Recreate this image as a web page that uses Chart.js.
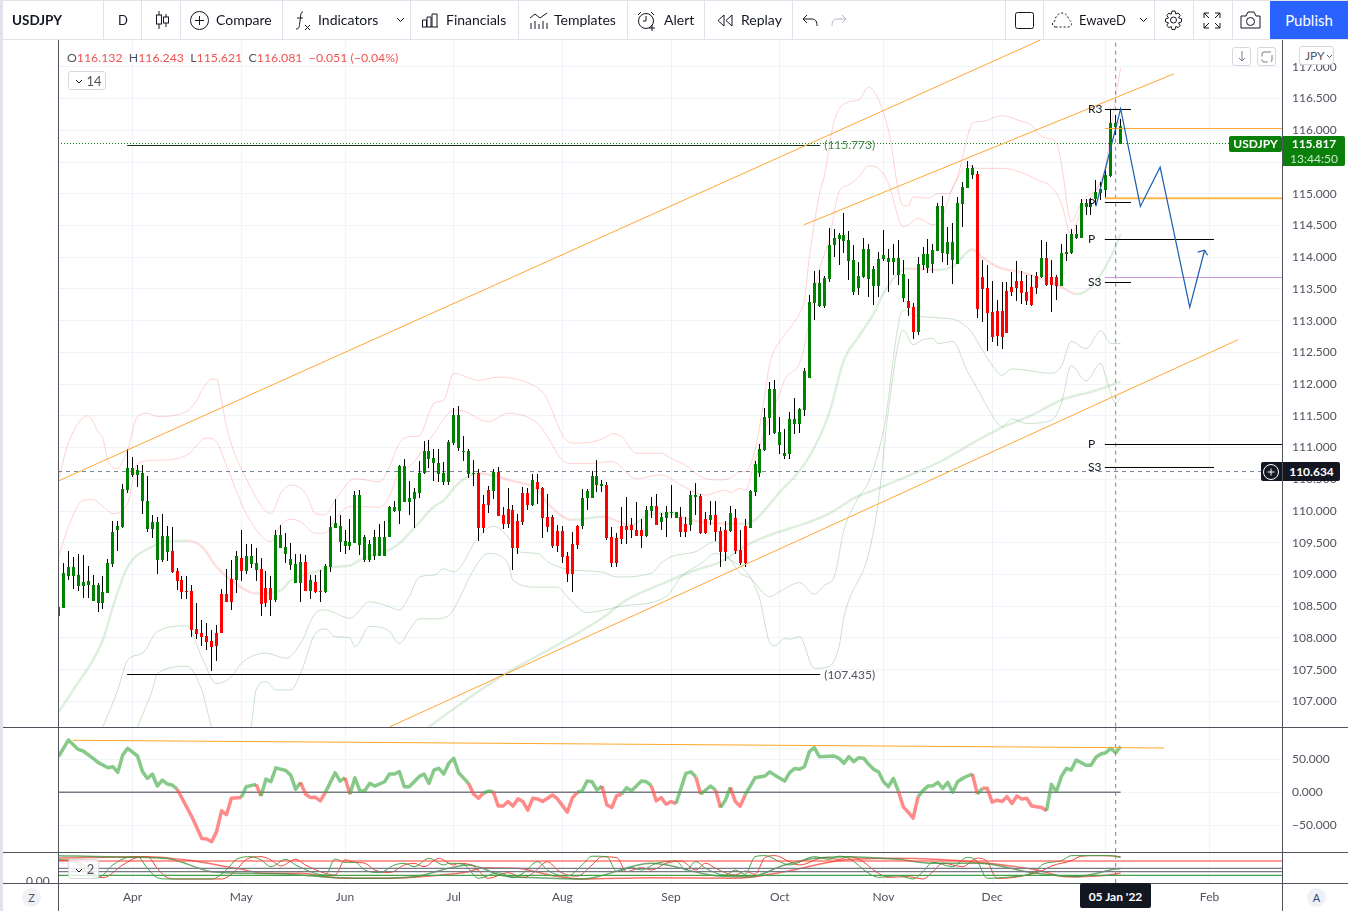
<!DOCTYPE html>
<html><head><meta charset="utf-8"><title>USDJPY</title>
<script src="https://cdn.jsdelivr.net/npm/chart.js@4/dist/chart.umd.min.js"></script>
<style>
html,body{margin:0;padding:0;background:#fff;width:1348px;height:911px;overflow:hidden;font-family:Lato,"Open Sans",sans-serif;color:#131722}
#c{position:absolute;left:0;top:0}
.a{position:absolute;white-space:nowrap}
.ln{position:absolute;background:#50535e}
.sep{position:absolute;top:0;width:1px;height:39px;background:#e0e3eb}
.tb{position:absolute;top:11px;font-size:14px;line-height:18px;color:#131722;white-space:nowrap}
svg{position:absolute;overflow:visible;fill:none;stroke:#131722;stroke-width:1}
.btn{position:absolute;background:#fff;border:1px solid #d6d8df;border-radius:3px;box-sizing:border-box;font-size:13px;color:#50535e;text-align:center}
.tag{position:absolute;color:#fff;font-size:12px;font-weight:700;text-align:center;border-radius:2px}
</style></head><body>
<canvas id="c" width="1348" height="911"></canvas>

<div class="a" style="left:0;top:0;width:3px;height:911px;background:#e0e3eb"></div>
<div class="a" style="left:0;top:0;width:1348px;height:1px;background:#e0e3eb"></div>
<div class="a" style="left:0;top:39px;width:1348px;height:1px;background:#e0e3eb"></div>
<div class="ln" style="left:58px;top:40px;width:1px;height:871px"></div>
<div class="ln" style="left:1282px;top:40px;width:1px;height:871px"></div>
<div class="ln" style="left:3px;top:727px;width:1345px;height:1px"></div>
<div class="ln" style="left:3px;top:852px;width:1345px;height:1px"></div>
<div class="ln" style="left:3px;top:883px;width:1345px;height:1px"></div>
<div class="a" style="left:26px;top:873px;height:10px;overflow:hidden;font-size:12px;line-height:15px;color:#50535e">0.00</div>

<div class="tb" style="left:12px;font-weight:700;font-size:13.500px">USDJPY</div>
<div class="sep" style="left:103px"></div>
<div class="tb" style="left:118px;font-size:13px">D</div>
<div class="sep" style="left:141px"></div>
<svg style="left:155px;top:11px" width="14" height="18"><path d="M4 0v18M11 3v13"/><rect x="1.5" y="4" width="5" height="9" fill="#fff"/><rect x="8.5" y="6" width="5" height="6" fill="#fff"/></svg>
<div class="sep" style="left:180px"></div>
<svg style="left:190px;top:11px" width="19" height="19"><circle cx="9.5" cy="9.5" r="9"/><path d="M9.5 5v9M5 9.5h9"/></svg>
<div class="tb" style="left:216px">Compare</div>
<div class="sep" style="left:282px"></div>
<svg style="left:295px;top:11px" width="16" height="20"><path d="M8 1c-3 0-2 4-3 9s0 8-4 8M2 7h6M10 14l5 5M15 14l-5 5"/></svg>
<div class="tb" style="left:318px">Indicators</div>
<svg style="left:396px;top:17px" width="9" height="6"><path d="M1 1l3.5 3.5L8 1"/></svg>
<div class="sep" style="left:410px"></div>
<svg style="left:421px;top:13px" width="17" height="15"><path d="M1 14h16M1.5 14V7h4v7M6 14V4h4v10M11 14V1h5v13"/></svg>
<div class="tb" style="left:446px">Financials</div>
<div class="sep" style="left:518px"></div>
<svg style="left:529px;top:12px" width="19" height="17"><path d="M1 6l5-4 5 4 7-5M2 17v-6M6 17v-8M10 17v-5M14 17v-8M18 17v-6"/></svg>
<div class="tb" style="left:554px">Templates</div>
<div class="sep" style="left:627px"></div>
<svg style="left:637px;top:11px" width="20" height="20"><circle cx="9" cy="10" r="7.5"/><path d="M9 5v5h-3M1 4l3-3M14 1l3 3M15 14v6M12 17h6"/></svg>
<div class="tb" style="left:664px">Alert</div>
<div class="sep" style="left:704px"></div>
<svg style="left:717px;top:14px" width="17" height="13"><path d="M7 1L1 6.500l6 5.500zM15 1L9 6.500l6 5.500z"/></svg>
<div class="tb" style="left:741px">Replay</div>
<div class="sep" style="left:792px"></div>
<svg style="left:802px;top:14px" width="16" height="12"><path d="M5 1L1 5l4 4M1 5h9c4 0 5 3 5 7"/></svg>
<svg style="left:831px;top:14px;stroke:#b2b5be" width="16" height="12"><path d="M11 1l4 4-4 4M15 5H6C2 5 1 8 1 12"/></svg>
<div class="sep" style="left:1005px"></div>
<svg style="left:1015px;top:12px" width="19" height="17"><rect x=".5" y=".5" width="18" height="16" rx="2"/></svg>
<div class="sep" style="left:1043px"></div>
<svg style="left:1051px;top:12px;stroke-dasharray:2 2" width="22" height="16"><path d="M5 15C1 15 0 10 4 9 4 5 7 1 11 1s6 3 7 7c4 2 3 7-1 7z"/></svg>
<div class="tb" style="left:1079px;font-size:13px">EwaveD</div>
<svg style="left:1139px;top:17px" width="9" height="6"><path d="M1 1l3.5 3.5L8 1"/></svg>
<div class="sep" style="left:1154px"></div>
<svg style="left:1164px;top:10px" width="19" height="20"><circle cx="9.500" cy="10" r="3"/><path d="M8 1h3l.7 3 2.500-1 2 2.300-1.700 2.500 3 1v3l-3 1 1.700 2.500-2 2.300-2.500-1-.7 3H8l-.7-3-2.500 1-2-2.300 1.700-2.500-3-1V9l3-1-1.700-2.500 2-2.300 2.500 1z"/></svg>
<div class="sep" style="left:1193px"></div>
<svg style="left:1203px;top:12px" width="18" height="17"><path d="M1 6V1h5M1 1l5 5M17 6V1h-5M17 1l-5 5M1 11v5h5M1 16l5-5M17 11v5h-5M17 16l-5-5"/></svg>
<div class="sep" style="left:1232px"></div>
<svg style="left:1240px;top:11px" width="21" height="18"><path d="M1 5h5l2-4h6l2 4h4v12H1z"/><circle cx="10.500" cy="10.500" r="4"/></svg>
<div class="a" style="left:1270px;top:1px;width:78px;height:38px;background:#2962ff;color:#fff;font-size:15px;line-height:38px;text-align:center">Publish</div>

<div class="a" style="left:67px;top:50px;font-size:12.300px;line-height:15px;color:#ef5350"><span style="color:#50535e">O</span>116.132 <span style="color:#50535e">&nbsp;H</span>116.243 <span style="color:#50535e">&nbsp;L</span>115.621 <span style="color:#50535e">&nbsp;C</span>116.081 &nbsp;−0.051 (−0.04%)</div>
<div class="btn" style="left:68px;top:71px;width:38px;height:19px;line-height:18px;padding-left:14px">14<svg style="left:6px;top:7px;stroke:#131722" width="8" height="5"><path d="M1 1l3 3 3-3"/></svg></div>
<div class="btn" style="left:68px;top:859px;width:31px;height:20px;line-height:19px;padding-left:14px;background:rgba(255,255,255,.8)">2<svg style="left:6px;top:8px;stroke:#131722" width="8" height="5"><path d="M1 1l3 3 3-3"/></svg></div>
<div class="btn" style="left:1232px;top:47px;width:19px;height:19px"><svg style="left:5px;top:3px;stroke:#787b86" width="8" height="11"><path d="M4 0v10M1 7l3 3 3-3"/></svg></div>
<div class="btn" style="left:1257px;top:47px;width:19px;height:19px"><svg style="left:3px;top:3px;stroke:#787b86" width="11" height="11"><rect x="1" y="1" width="10" height="10" rx="2" stroke-dasharray="7 3"/></svg></div>
<div class="btn" style="left:1299px;top:46px;width:35px;height:19px;line-height:17px;font-size:12px;text-align:left;padding-left:5px">JPY<svg style="left:26px;top:7px;stroke:#50535e" width="7" height="5"><path d="M1 1l2.500 2.500L6 1"/></svg></div>

<div class="tag" style="left:1229px;top:136px;width:53px;height:16px;line-height:16px;background:#0a7f0a">USDJPY</div>
<div class="a" style="left:1283px;top:136px;width:62px;height:30px;background:#0a7f0a;border-radius:0 2px 2px 0;color:#fff;text-align:center;font-size:12px;line-height:15px;font-weight:700">115.817<br><span style="font-weight:400;color:#c8e6c9">13:44:50</span></div>
<div class="a" style="left:1261px;top:462px;width:21px;height:19px;background:#131722;border-radius:2px 0 0 2px"><svg style="left:2px;top:1.500px;stroke:#fff" width="16" height="16"><circle cx="8" cy="8" r="7.500"/><path d="M8 4.500v7M4.500 8h7"/></svg></div>
<div class="a" style="left:1283px;top:462px;width:57px;height:19px;background:#131722;color:#fff;border-radius:0 2px 2px 0;text-align:center;font-size:12px;line-height:19px;font-weight:700">110.634</div>
<div class="a" style="left:1080px;top:883px;width:71px;height:25px;background:#131722;color:#fff;border-radius:2px;text-align:center;font-size:12px;line-height:27px;font-weight:700">05 Jan '22</div>
<div class="a" style="left:22px;top:888px;width:19px;height:19px;border-radius:50%;background:#eff1f6;color:#50535e;text-align:center;font-size:11px;line-height:19px">Z</div>
<div class="a" style="left:1307px;top:888px;width:19px;height:19px;border-radius:50%;background:#eff1f6;color:#2a4a8a;text-align:center;font-size:11px;line-height:19px">A</div>

<script>
// ---- time axis
const monthTickIdx = [15, 37, 58, 80, 102, 124, 146, 167, 189, 212, 233];
const monthTickLabels = ['Apr', 'May', 'Jun', 'Jul', 'Aug', 'Sep', 'Oct', 'Nov', 'Dec', '', 'Feb'];
const priceTicks = [107,107.5,108,108.5,109,109.5,110,110.5,111,111.5,112,112.5,113,113.5,114,114.5,115,115.5,116,116.5,117];
const cciTicks = [-50, 0, 50];

// ---- candles (index = trading day)
const highs = [108.49,109.18,109.37,109.28,109.32,109.31,109.13,108.99,108.87,108.97,
109.24,109.84,109.85,110.43,110.97,110.85,110.73,110.73,110.55,109.93,
109.91,109.95,109.76,109.75,109.10,108.97,108.97,108.83,108.55,108.28,
108.23,108.13,108.20,108.77,109.08,109.23,109.37,109.70,109.48,109.48,
109.41,109.26,109.05,108.97,109.70,109.78,109.65,109.50,109.32,109.33,
109.31,108.99,108.99,109.07,109.17,109.92,110.19,109.94,109.70,109.87,
110.31,110.33,109.62,109.54,109.70,109.79,109.85,110.08,110.16,110.72,
110.82,110.47,110.37,110.79,111.10,111.12,110.98,110.98,110.77,111.12,
111.63,111.65,111.18,110.98,110.80,110.66,110.25,110.39,110.66,110.70,
110.07,110.36,110.09,109.95,110.38,110.36,110.58,110.58,110.38,110.27,
109.94,109.78,109.76,109.35,109.67,109.78,110.35,110.35,110.63,110.80,
110.49,110.46,109.75,109.65,110.06,110.22,109.89,110.14,109.87,110.08,
110.22,110.27,109.97,110.08,110.41,109.98,110.06,109.91,110.31,110.44,
110.27,109.98,110.16,110.16,109.75,109.84,110.08,110.03,109.70,109.88,
110.33,110.79,111.05,111.63,112.04,112.07,111.48,111.29,111.56,111.78,
111.63,112.25,113.40,113.78,113.80,113.70,114.46,114.44,114.38,114.70,
114.41,114.19,113.92,114.30,114.21,113.86,114.08,114.43,114.13,114.21,
114.27,113.95,113.66,113.28,114.00,114.16,114.29,114.21,114.85,114.97,
114.47,114.54,114.95,115.19,115.52,115.45,115.36,113.96,113.88,113.63,
113.33,113.61,113.61,113.77,113.94,113.78,113.72,113.72,113.77,114.27,
114.24,113.96,113.72,114.21,114.37,114.45,114.51,114.92,114.92,114.93,
115.22,115.19,115.37,116.32,116.24,116.18];
const lows = [108.35,108.47,108.91,108.77,108.74,108.63,108.63,108.58,108.41,108.46,
108.71,109.12,109.37,109.73,110.28,110.54,110.38,109.96,109.67,109.58,
109.00,109.20,109.21,109.03,108.75,108.61,108.61,108.02,107.98,107.87,
107.81,107.48,107.64,108.07,108.57,108.44,108.71,108.90,109.01,109.10,
108.90,108.34,108.48,108.35,108.56,109.41,109.18,109.07,108.86,108.57,
108.74,108.61,108.70,108.57,108.71,109.04,109.73,109.35,109.32,109.39,
109.49,109.31,109.19,109.20,109.23,109.29,109.29,109.59,109.98,109.79,
110.14,109.94,109.73,110.21,110.58,110.67,110.48,110.46,110.41,110.41,
111.04,110.95,110.79,110.52,110.39,109.53,109.66,109.97,110.19,109.92,
109.72,109.73,109.07,109.32,109.78,110.02,110.08,110.11,109.57,109.67,
109.42,109.35,109.18,108.88,108.72,109.40,109.72,110.02,110.20,110.30,
110.30,109.54,109.12,109.12,109.48,109.48,109.57,109.61,109.42,109.59,
109.89,109.78,109.70,109.59,109.89,109.89,109.59,109.59,109.68,109.94,
109.64,109.64,109.78,109.53,109.12,109.21,109.67,109.32,109.15,109.12,
109.73,110.24,110.54,110.94,111.20,111.22,110.90,110.82,110.82,111.21,
111.23,111.50,112.10,113.01,113.22,113.20,113.61,114.00,113.88,114.07,
113.64,113.40,113.40,113.67,113.37,113.25,113.37,113.94,113.45,113.72,
113.56,113.29,113.07,112.71,112.77,113.80,113.75,113.75,114.10,113.93,
113.88,113.58,113.89,114.48,115.09,115.23,113.04,112.98,112.52,112.66,
112.60,112.55,112.80,113.39,113.31,113.26,113.25,113.23,113.42,113.67,
113.55,113.14,113.33,113.55,113.94,114.05,114.29,114.30,114.67,114.67,
114.82,114.90,114.93,115.27,115.92,115.78];
const opens = [108.35,108.47,108.97,108.98,108.82,108.82,108.83,108.58,108.55,108.55,
108.71,109.17,109.70,109.75,110.33,110.56,110.57,110.15,109.72,109.72,
109.23,109.23,109.36,109.37,109.05,108.91,108.74,108.74,108.14,108.08,
108.03,107.95,108.08,108.69,108.69,108.93,108.91,109.26,109.05,109.16,
109.07,109.09,108.79,108.79,108.60,109.42,109.32,109.15,108.87,108.87,
109.20,108.74,108.88,108.74,108.72,109.12,109.73,109.51,109.45,109.45,
109.50,109.46,109.23,109.23,109.29,109.29,109.29,109.59,110.00,110.00,
110.14,110.14,110.19,110.28,110.60,110.82,110.76,110.58,110.46,110.46,
111.07,110.99,110.93,110.58,110.58,110.60,110.11,110.33,110.31,110.61,
109.94,110.03,110.02,109.84,110.28,110.28,110.09,110.46,110.36,109.91,
109.91,109.68,109.68,109.29,109.48,109.76,109.76,110.20,110.20,110.41,
110.39,110.41,109.59,109.57,109.76,109.76,109.78,109.70,109.70,109.61,
110.00,110.08,109.83,109.89,109.97,109.89,109.91,109.79,109.78,110.22,
110.24,109.87,109.86,109.94,109.68,109.70,109.69,109.89,109.39,109.76,
109.74,110.30,110.60,110.96,111.47,111.23,111.04,110.87,110.90,111.37,
111.37,111.59,112.10,113.28,113.23,113.23,113.66,114.19,114.29,114.25,
113.94,113.45,113.51,113.69,113.66,113.55,113.55,113.97,113.92,113.92,
113.72,113.36,113.31,113.21,112.82,113.88,113.83,113.89,114.10,114.06,
114.05,113.96,113.89,114.84,115.09,115.30,115.31,113.69,113.51,113.14,
113.15,113.15,113.47,113.53,113.63,113.63,113.45,113.53,113.70,113.69,
113.99,113.69,113.69,113.55,114.05,114.07,114.30,114.30,114.79,114.79,
114.92,115.01,115.06,115.28,116.05,115.78];
const closes = [108.49,109.03,109.12,109.12,108.99,108.88,108.89,108.83,108.83,108.72,
109.18,109.67,109.77,110.35,110.68,110.68,110.65,110.60,110.16,109.83,
109.83,109.61,109.61,109.04,108.90,108.73,108.72,108.13,108.06,108.01,
107.94,107.86,107.87,108.07,108.57,108.57,109.29,109.05,109.29,109.29,
109.18,108.53,108.55,108.60,109.62,109.62,109.43,109.24,109.17,109.20,
108.74,108.91,108.72,108.72,109.13,109.75,109.81,109.76,109.53,109.51,
110.25,110.25,109.59,109.48,109.59,109.59,109.59,110.06,110.06,110.71,
110.71,110.21,110.30,110.60,110.95,110.95,110.84,110.76,110.60,111.09,
111.51,111.51,110.95,110.95,110.60,109.73,109.73,110.09,110.61,109.92,
109.79,109.79,109.42,109.42,109.83,110.09,110.49,110.35,109.89,109.75,
109.45,109.45,109.27,109.01,109.01,109.46,110.20,110.31,110.55,110.55,
110.43,109.57,109.18,109.18,109.56,109.70,109.70,109.61,109.61,110.02,
110.08,109.78,109.91,109.98,109.98,109.98,109.67,109.67,110.25,110.25,
109.65,109.65,109.94,109.67,109.35,109.35,109.97,109.37,109.18,109.18,
110.31,110.74,110.97,111.48,111.93,111.93,111.24,110.91,111.45,111.45,
111.61,112.20,113.29,113.59,113.59,113.67,114.19,114.30,114.35,114.35,
114.27,113.95,113.70,114.13,114.13,113.81,113.97,114.03,113.99,113.99,
113.99,113.73,113.20,112.82,113.89,114.05,114.05,114.11,114.81,114.81,
114.24,114.24,114.85,115.11,115.41,115.41,113.18,113.50,113.12,112.74,
112.76,112.74,112.80,113.45,113.52,113.44,113.31,113.25,113.51,113.99,
113.56,113.56,113.55,114.07,114.08,114.37,114.37,114.85,114.85,114.85,
115.03,115.08,115.30,116.11,116.11,116.07];

// ---- bands and averages: [candle index, price]
const pinkOuter = [[0,110.49],[2,111.07],[6,111.5],[8,111.25],[9,111.14],[10,110.8],[12,110.67],[13,110.78],[14,110.96],[16,111.49],[18,111.54],[20,111.49],[26,111.57],[28,111.75],[29,111.9],[31,112.08],[32,112.08],[33,111.75],[34,111.33],[39,110.36],[43,109.96],[45,110.28],[47,110.41],[50,110.28],[52,109.96],[54,109.94],[56,110.17],[60,110.51],[65,110.46],[67,110.7],[69,111.07],[71,111.17],[73,111.18],[75,111.54],[76,111.7],[78,111.75],[80,112.17],[85,112.06],[89,112.11],[95,112.02],[98,111.87],[99,111.75],[102,111.2],[104,111.07],[108,111.09],[111,111.17],[112,111.22],[114,111.17],[117,110.91],[122,110.91],[124,110.83],[127,110.72],[130,110.54],[134,110.49],[136,110.52],[138,110.62],[139,110.62],[141,110.96],[143,111.85],[144,112.33],[146,112.67],[148,112.88],[150,113.11],[151,113.33],[152,114.0],[154,114.98],[155,115.27],[157,116.14],[160,116.45],[162,116.48],[164,116.68],[166,116.48],[168,116.0],[171,114.81],[172,114.81],[173,114.95],[176,114.93],[178,115.0],[180,115.0],[182,115.27],[184,115.9],[185,116.11],[187,116.14],[191,116.23],[195,116.14],[197,116.08],[199,115.9],[202,115.8],[203,115.48],[205,114.56],[207,114.85],[212,115.45],[213,116.0],[214,116.53],[215,116.98]];
const pinkInner = [[0,109.28],[2,109.75],[5,110.17],[7,110.18],[9,110.07],[11,109.96],[14,110.12],[16,110.75],[20,110.8],[26,110.88],[30,111.15],[32,111.09],[34,110.72],[38,109.96],[43,109.52],[45,109.78],[47,109.87],[49,109.83],[52,109.65],[54,109.65],[56,109.88],[59,110.07],[65,110.06],[67,110.23],[69,110.62],[71,110.7],[76,111.22],[79,111.54],[81,111.59],[87,111.41],[91,111.54],[97,111.38],[99,111.17],[102,110.8],[104,110.75],[108,110.75],[112,110.78],[117,110.51],[122,110.57],[126,110.41],[131,110.25],[135,110.33],[136,110.29],[138,110.36],[139,110.33],[141,110.8],[144,111.49],[146,111.85],[147,112.07],[150,112.33],[151,112.6],[152,113.0],[154,113.8],[156,114.27],[158,115.03],[160,115.14],[162,115.27],[164,115.44],[166,115.4],[168,115.16],[171,114.48],[172,114.51],[174,114.61],[177,114.51],[179,114.66],[181,115.1],[182,115.25],[184,115.45],[186,115.4],[191,115.4],[196,115.3],[198,115.22],[201,115.11],[203,114.85],[205,114.35],[207,114.75],[210,115.05],[212,115.4],[214,116.0],[215,116.2]];
const midBand = [[0,106.83],[3,107.18],[9,107.97],[11,108.49],[14,109.12],[19,109.44],[22,109.52],[26,109.53],[29,109.44],[32,109.12],[35,108.91],[40,108.7],[45,108.75],[47,108.91],[51,109.02],[56,109.12],[59,109.14],[61,109.23],[67,109.39],[69,109.49],[72,109.73],[76,110.07],[78,110.17],[81,110.44],[85,110.59],[89,110.54],[91,110.49],[97,110.33],[99,110.12],[104,109.86],[110,109.91],[116,109.78],[120,109.96],[125,109.96],[127,109.88],[137,109.8],[139,109.8],[141,109.86],[143,110.02],[146,110.3],[149,110.54],[152,110.86],[156,111.54],[159,112.38],[162,112.75],[165,113.11],[167,113.43],[170,113.75],[172,113.82],[178,113.8],[181,113.85],[185,114.12],[187,114.0],[190,113.85],[196,113.74],[203,113.53],[206,113.42],[209,113.53],[213,114.0],[215,114.37]];
const longAverage = [[75,106.6],[81,106.94],[91,107.46],[101,107.89],[110,108.31],[115,108.6],[123,108.88],[129,109.07],[134,109.2],[140,109.49],[145,109.65],[151,109.8],[156,109.96],[161,110.2],[166,110.36],[174,110.62],[179,110.8],[185,111.07],[190,111.28],[197,111.51],[203,111.75],[210,111.9],[215,112.04]];
const greenUpper = [[9,106.6],[12,107.18],[14,107.65],[17,107.76],[20,108.1],[26,108.19],[29,107.7],[32,107.28],[35,107.39],[37,107.6],[42,107.76],[46,107.68],[49,107.91],[52,108.39],[54,108.44],[59,108.31],[63,108.57],[67,108.49],[69,108.44],[71,108.65],[73,108.96],[76,108.99],[78,109.09],[80,109.04],[85,109.59],[88,109.76],[91,109.59],[93,109.36],[97,109.33],[99,109.2],[104,109.07],[110,109.04],[113,108.96],[120,109.02],[122,109.18],[124,109.28],[129,109.36],[133,109.52],[136,109.23],[138,109.02],[140,108.94],[144,108.65],[146,108.73],[150,108.87],[153,108.69],[155,108.83],[157,108.96],[159,109.7],[162,110.22],[164,110.46],[167,111.27],[171,113.17],[173,113.09],[179,113.04],[182,113.0],[185,112.8],[186,112.67],[189,112.3],[191,112.14],[193,112.24],[201,112.17],[203,112.28],[205,112.67],[208,112.56],[211,112.84],[213,112.64],[215,112.64]];
const greenLower = [[16,106.6],[19,107.18],[20,107.44],[26,107.55],[29,107.18],[31,106.6],[34,106.2],[37,106.2],[39,106.6],[40,107.18],[42,107.31],[44,107.18],[47,107.18],[49,107.44],[52,108.07],[54,108.14],[56,108.02],[59,108.0],[60,107.86],[63,108.18],[67,108.1],[69,107.91],[71,108.12],[73,108.3],[76,108.3],[79,108.35],[81,108.6],[84,109.07],[87,109.33],[91,109.17],[92,108.91],[97,108.8],[101,108.8],[103,108.65],[107,108.4],[111,108.45],[114,108.5],[123,108.65],[126,108.96],[130,109.17],[133,109.33],[136,109.23],[140,108.96],[142,108.6],[144,107.92],[145,107.88],[147,107.99],[148,107.98],[150,108.02],[153,107.52],[156,107.55],[158,107.86],[159,108.33],[164,109.33],[166,110.17],[168,111.59],[171,112.85],[173,112.62],[175,112.7],[177,112.72],[178,112.64],[181,112.67],[184,112.2],[186,111.93],[189,111.51],[191,111.33],[193,111.45],[196,111.38],[201,111.43],[203,111.7],[205,112.29],[208,112.05],[211,112.33],[212,112.12],[214,111.7],[215,111.78]];

// ---- drawings on the price pane: [[idx,price],[idx,price]]
const axisLeftIdx = -0.1, axisRightIdx = 247.67;
const channelUpper = [[-0.1,110.47],[198.7,117.42]];
const channelInner = [[150.9,114.51],[225.8,116.89]];
const channelLower = [[67.1,106.6],[238.8,112.7]];
const highLevel = [[13.9,115.76],[154.2,115.76]];
const lowLevel = [[13.9,107.423],[154.2,107.423]];
const orangeLevels = [116.028, 114.93];
const purpleLevel = 113.68;
const pivotLines = [[211.8,217.1,116.328],[211.8,217.1,114.862],[211.8,233.9,114.279],[211.8,217.1,113.601],[211.8,axisRightIdx,111.048],[211.8,233.9,110.686]];
const pivotLabels = [['R3',116.33],['P',114.86],['P',114.28],['S3',113.6],['P',111.05],['S3',110.69]];
const pivotLabelIdx = 208.4;
const levelLabels = [['(115.773)',155,115.76,'#4b8a55'],['(107.435)',155,107.42,'#50535e']];
const waveForecast = [[210,114.8],[215,116.34],[219,114.8],[223,115.42],[229,113.21],[232,114.11]];
const waveArrowHead = [[230.6,114.08],[232,114.11],[232.6,114.03]];
const lastPrice = 115.792;
const crossPrice = 110.622;
const crossIdx = 214;

// ---- oscillator pane: [idx,value]
const cciLine = [[0,54],[2,79.2],[4,65],[5,62.6],[7,51.5],[8,45.4],[10,37.3],[11,38.8],[12,30.2],[13,56.5],[14,66.6],[16,55],[17,31.3],[18,21],[19,27.7],[20,9.5],[21,18.6],[22,12.6],[23,11],[24,5],[27,-37],[29,-70],[30,-70.8],[31,-74.8],[32,-59.6],[33,-28],[34,-34],[35,-9],[37,-8],[38,8.5],[40,12],[41,-5.6],[42,20],[43,16],[44,37],[46,33],[47,26],[48,4.5],[49,15],[50,-2.6],[51,-8],[52,-7.6],[53,-13],[54,-0.5],[56,29.7],[57,17],[58,22],[59,-3],[60,22],[61,2],[62,2.5],[63,13.6],[64,9.5],[66,16],[67,27.7],[68,27.7],[69,31.3],[70,8.5],[71,8.5],[72,16],[73,23.7],[74,27.7],[75,13.6],[76,33.8],[77,36.3],[78,27.7],[79,44],[80,51.5],[81,29.7],[83,13.6],[84,-2.6],[85,-9],[86,-1.6],[87,2],[88,1],[89,-20.8],[90,-20.8],[91,-14],[92,-20.8],[93,-10],[94,-14],[95,-27],[96,-9],[97,-10],[98,-14],[100,-4],[101,-10],[103,-30],[104,-9],[105,0],[106,2],[107,17],[108,16],[109,3.5],[110,9.5],[111,-19],[112,-23],[113,-5],[114,-3],[115,7],[116,2.5],[118,17],[119,16],[120,10],[121,-13],[122,-8],[123,-18],[124,-14],[125,-17],[127,28.7],[128,31],[129,23.7],[130,-3],[131,3.5],[132,9.5],[133,3.5],[134,-23],[135,-12],[136,7.5],[137,-14],[138,-21],[139,-4],[141,22],[143,24.7],[144,31],[145,26],[147,17],[148,29.7],[149,36],[150,35],[151,38.8],[152,61.6],[153,67.6],[154,54],[157,55],[158,51.5],[159,44],[160,54],[161,46.4],[162,52.5],[163,51.5],[164,42.4],[165,34.8],[166,31],[167,16],[168,8.5],[169,21],[170,2],[171,-22],[172,-30],[173,-39],[174,-6.6],[175,2.5],[176,9.5],[177,10],[178,15],[179,6],[180,15],[181,0],[182,16],[183,21],[184,24.7],[185,27.7],[186,-2.6],[187,6],[188,6],[189,-15],[190,-12],[191,-14],[192,-6.6],[193,-17],[194,-5.6],[195,-10],[196,-9],[197,-20.8],[198,-22],[199,-23],[200,-28],[201,12],[202,1],[203,23.7],[204,36],[205,33.8],[206,49],[207,45],[208,41],[209,41],[210,53],[211,58],[212,60],[213,66.6],[214,60],[215,69.6]];
const cciRedRanges = [[24,37],[40,41],[49,54],[58,59],[83,86],[88,105],[110,114],[120,125],[129,130],[133,134],[136,139],[170,174],[185,186],[187,200]];
const cciTrend = [[2.9,78.8],[223.8,67.1]];
const cciZero = [[-0.1,0],[215,0]];

// ---- stochastic pane
const stochLevelRed = 67.9, stochLevelGreen = 16.8, stochLevelGreys = [41.8, 29.6];
const stochFastGreen = [[0,72],[2,71.5],[8,8.4],[11,53.6],[14,81],[16,83.4],[18,41.7],[20,8.4],[22,3.6],[31,3.6],[34,35.7],[36,73.8],[39,83.4],[41,71.5],[43,47.6],[46,73.8],[48,53.6],[52,23.8],[54,17.9],[56,75],[58,63.1],[60,63.1],[62,35.7],[65,26.2],[68,53.6],[70,59.6],[72,47.6],[75,77.4],[78,53.6],[79,59.6],[82,56],[85,6],[89,26.2],[92,8.4],[94,23.8],[97,65.5],[99,35.7],[101,17.9],[103,14],[106,53.6],[108,85],[111,83.4],[113,29.8],[116,44],[118,35.7],[121,59.6],[125,67.9],[127,35.7],[129,65.5],[131,41.7],[135,17.9],[137,35.7],[139,20.3],[141,83.4],[143,87],[146,65.5],[148,53.6],[153,83.4],[156,73.8],[158,85],[160,77.4],[164,23.8],[166,9.6],[170,15.5],[173,3.6],[175,29.8],[177,63.1],[181,47.6],[184,81],[186,65.5],[188,6],[191,8.4],[198,34],[199,53.6],[203,69],[205,87],[208,87],[213,87],[215,80]];
const stochFastRed = [[0,70],[3,70],[9,8.4],[13,53.6],[16,81],[18,83.4],[20,41.7],[22,8.4],[24,3.6],[33,3.6],[36,35.7],[38,73.8],[41,83.4],[43,71.5],[45,50],[48,73.8],[50,53.6],[54,23.8],[56,17.9],[58,72],[60,63.1],[62,60],[64,35.7],[67,26.2],[70,53.6],[72,59.6],[74,47.6],[77,77.4],[80,53.6],[81,59.6],[84,50],[87,6],[91,26.2],[94,8.4],[96,23.8],[99,65.5],[101,35.7],[103,17.9],[105,14],[108,53.6],[110,83],[113,80],[115,29.8],[118,44],[120,35.7],[123,59.6],[126,67.9],[129,35.7],[131,60],[133,41.7],[137,17.9],[139,32],[141,20.3],[143,80],[145,87],[148,65.5],[150,53.6],[155,80],[158,73.8],[160,83],[162,75],[166,23.8],[168,9.6],[172,12],[175,3.6],[177,29.8],[179,60],[183,47.6],[186,78],[188,65.5],[190,6],[193,8.4],[199,32],[201,50],[205,69],[207,85],[210,87],[214,85],[215,83]];
const stochSlowGreen = [[0,87],[10,83],[22,77],[31,29.8],[39,23.8],[46,21.5],[53,12],[62,6],[72,12],[79,41.7],[83,53.6],[90,15.5],[97,8.4],[106,3.6],[120,59.6],[133,15.5],[140,12],[147,53.6],[153,77.4],[159,83.4],[170,73.8],[177,59.6],[186,59.6],[198,23.8],[206,12],[214,39],[215,41]];
const stochSlowRed = [[0,79],[18,83.4],[26,71.5],[36,41.7],[42,23.8],[49,23.8],[56,8.4],[66,6],[79,20.3],[83,29.8],[86,44],[93,41.7],[100,15.5],[106,3.6],[120,8.4],[137,6],[147,29.8],[159,71.5],[170,77.4],[186,63],[198,36],[204,12],[211,15.5],[215,24]];

// ---- styling
const fontFam = 'Lato, "Open Sans", sans-serif';
const toXY = a => a.map(([x, y]) => ({x, y}));
const line = (data, color, width, yAxisID, extra) => Object.assign({
  type: 'line', data: toXY(data), borderColor: color, borderWidth: width, yAxisID, xAxisID: 'x',
  pointRadius: 0, fill: false, order: 5, tension: 0, parsing: true
}, extra || {});
const smooth = {cubicInterpolationMode: 'monotone'};
const flatLine = (x0, x1, y, color, width, axis, extra) => line([[x0, y], [x1, y]], color, width, axis, extra);

const upDown = i => closes[i] >= opens[i];
const inRed = x => cciRedRanges.some(([a, b]) => x >= a && x < b);
const crossDash = {borderDash: [4, 4], order: 3};
const crossColor = '#758696';

const datasets = [
  {type: 'bar', label: 'wicks', yAxisID: 'y', xAxisID: 'x', grouped: false, barThickness: 1, minBarLength: 1, inflateAmount: 0, order: 2,
   data: highs.map((h, i) => ({x: i, y: [lows[i], h]})), backgroundColor: '#000000'},
  {type: 'bar', label: 'bodies', yAxisID: 'y', xAxisID: 'x', grouped: false, barThickness: 3, minBarLength: 1, inflateAmount: 0, order: 1,
   data: opens.map((o, i) => ({x: i, y: [o, closes[i]]})), backgroundColor: opens.map((o, i) => upDown(i) ? '#008000' : '#ff0000')},

  line(pinkOuter, 'rgba(255,0,0,.18)', 1, 'y', smooth),
  line(pinkInner, 'rgba(255,0,0,.18)', 1, 'y', smooth),
  line(greenUpper, 'rgba(0,110,0,.2)', 1, 'y', smooth),
  line(greenLower, 'rgba(0,110,0,.2)', 1, 'y', smooth),
  line(midBand, 'rgba(0,128,0,.13)', 2.500, 'y', Object.assign({segment: {borderColor: c => c.p1.parsed.y < c.p0.parsed.y ? 'rgba(255,0,0,.13)' : 'rgba(0,128,0,.13)'}}, smooth)),
  line(longAverage, 'rgba(0,128,0,.13)', 2.500, 'y', smooth),

  line(channelUpper, '#ffa733', 1, 'y', {order: 0}),
  line(channelInner, '#ffa733', 1, 'y', {order: 0}),
  line(channelLower, '#ffa733', 1, 'y', {order: 0}),
  line(highLevel, '#0d3a14', 1, 'y', {order: 0}),
  line(lowLevel, '#000000', 1, 'y', {order: 0}),
  flatLine(211.8, axisRightIdx, orangeLevels[0], '#ffa733', 1, 'y', {order: 0}),
  flatLine(211.8, axisRightIdx, orangeLevels[1], '#ffb74d', 2, 'y', {order: 0}),
  flatLine(211.8, axisRightIdx, purpleLevel, '#c99adb', 1, 'y', {order: 0}),
  ...pivotLines.map(([a, b, p]) => flatLine(a, b, p, '#000000', 1, 'y', {order: 0})),
  line(waveForecast, '#1e5fb4', 1.250, 'y', {order: -1}),
  line(waveArrowHead, '#1e5fb4', 1.250, 'y', {order: -1}),
  flatLine(axisLeftIdx, 237.2, lastPrice, '#0a7f0a', 1, 'y', {borderDash: [1, 2], order: 3}),
  flatLine(axisLeftIdx, axisRightIdx, crossPrice, crossColor, 1, 'y', crossDash),
  line([[crossIdx, 106.6], [crossIdx, 117.42]], crossColor, 1, 'y', crossDash),

  line(cciLine, 'rgba(76,175,80,.68)', 3.500, 'y2', {segment: {borderColor: c => inRed(c.p0.parsed.x) ? 'rgba(255,82,82,.68)' : 'rgba(76,175,80,.68)'}, borderJoinStyle: 'round', order: 2}),
  line(cciTrend, '#ffa726', 1, 'y2', {order: 1}),
  line(cciZero, '#787b86', 1.500, 'y2', {order: 3}),
  line([[crossIdx, -90.4], [crossIdx, 98.9]], crossColor, 1, 'y2', crossDash),

  flatLine(axisLeftIdx, axisRightIdx, stochLevelRed, '#ff3b30', 1.200, 'y3', {order: 1}),
  flatLine(axisLeftIdx, axisRightIdx, stochLevelGreen, '#43a047', 1.200, 'y3', {order: 1}),
  ...stochLevelGreys.map(v => flatLine(axisLeftIdx, axisRightIdx, v, '#787b86', 1.200, 'y3', {order: 1})),
  line(stochSlowGreen, 'rgba(56,142,60,.75)', 1.500, 'y3', Object.assign({order: 2}, smooth)),
  line(stochSlowRed, 'rgba(244,67,54,.75)', 1.500, 'y3', Object.assign({order: 2}, smooth)),
  line(stochFastGreen, '#43a047', 1, 'y3', Object.assign({order: 2}, smooth)),
  line(stochFastRed, '#f44336', 1, 'y3', Object.assign({order: 2}, smooth)),
  line([[crossIdx, -10.7], [crossIdx, 100]], crossColor, 1, 'y3', crossDash)
];

const snapBars = {
  id: 'snapBars',
  beforeDatasetsDraw(chart) {
    chart.getSortedVisibleDatasetMetas().forEach(m => {
      if (m.type !== 'bar') return;
      m.data.forEach(el => {
        el.x = Math.floor(el.x) + 0.5;
        const t = Math.round(Math.min(el.y, el.base));
        let b = Math.round(Math.max(el.y, el.base));
        if (b === t) b = t + 1;
        el.y = t; el.base = b;
      });
    });
  }
};
const chartLabels = {
  id: 'chartLabels',
  afterDatasetsDraw(chart) {
    const {ctx, scales: {x, y}} = chart;
    ctx.save();
    ctx.textBaseline = 'middle';
    ctx.textAlign = 'left';
    ctx.font = '12px ' + fontFam;
    ctx.fillStyle = '#131722';
    pivotLabels.forEach(([t, p]) => ctx.fillText(t, x.getPixelForValue(pivotLabelIdx), y.getPixelForValue(p)));
    levelLabels.forEach(([t, i, p, col]) => {
      ctx.fillStyle = col;
      ctx.fillText(t, x.getPixelForValue(i), y.getPixelForValue(p));
    });
    ctx.restore();
  }
};
const gridColor = '#f0f3fa';
const commonY = {
  position: 'right', stack: 'panes', border: {display: false},
  afterFit: s => { s.width = 66; }
};
new Chart(document.getElementById('c'), {
  type: 'bar',
  data: {datasets},
  plugins: [snapBars, chartLabels],
  options: {
    responsive: false, animation: false, events: [],
    layout: {autoPadding: false, padding: {left: 58, top: 40, right: 0, bottom: 0}},
    plugins: {legend: {display: false}, tooltip: {enabled: false}, title: {display: false}},
    scales: {
      x: {
        type: 'linear', position: 'bottom', min: axisLeftIdx, max: axisRightIdx, offset: false,
        border: {display: false},
        grid: {color: gridColor, drawTicks: false, offset: false},
        afterBuildTicks: s => { s.ticks = monthTickIdx.map(v => ({value: v})); },
        afterFit: s => { s.height = 28; },
        ticks: {
          autoSkip: false, maxRotation: 0, padding: 7, color: '#50535e', font: {family: fontFam, size: 12},
          callback: v => monthTickLabels[monthTickIdx.indexOf(v)]
        }
      },
      y: Object.assign({}, commonY, {
        type: 'linear', stackWeight: 687, min: 106.596, max: 117.423, weight: 1,
        grid: {color: gridColor, drawTicks: false},
        afterBuildTicks: s => { s.ticks = priceTicks.map(v => ({value: v})); },
        ticks: {autoSkip: false, padding: 10, color: '#50535e', font: {family: fontFam, size: 12}, callback: v => v.toFixed(3)}
      }),
      y2: Object.assign({}, commonY, {
        type: 'linear', stackWeight: 125, min: -90.45, max: 98.94, weight: 2,
        grid: {color: gridColor, drawTicks: false},
        afterBuildTicks: s => { s.ticks = cciTicks.map(v => ({value: v})); },
        ticks: {autoSkip: false, padding: 10, color: '#50535e', font: {family: fontFam, size: 12}, callback: v => v.toFixed(3).replace('-', '\u2212')}
      }),
      y3: Object.assign({}, commonY, {
        type: 'linear', stackWeight: 31, min: -10.7, max: 100, weight: 3,
        grid: {display: false},
        ticks: {display: false}
      })
    }
  }
});
</script>
</body></html>
